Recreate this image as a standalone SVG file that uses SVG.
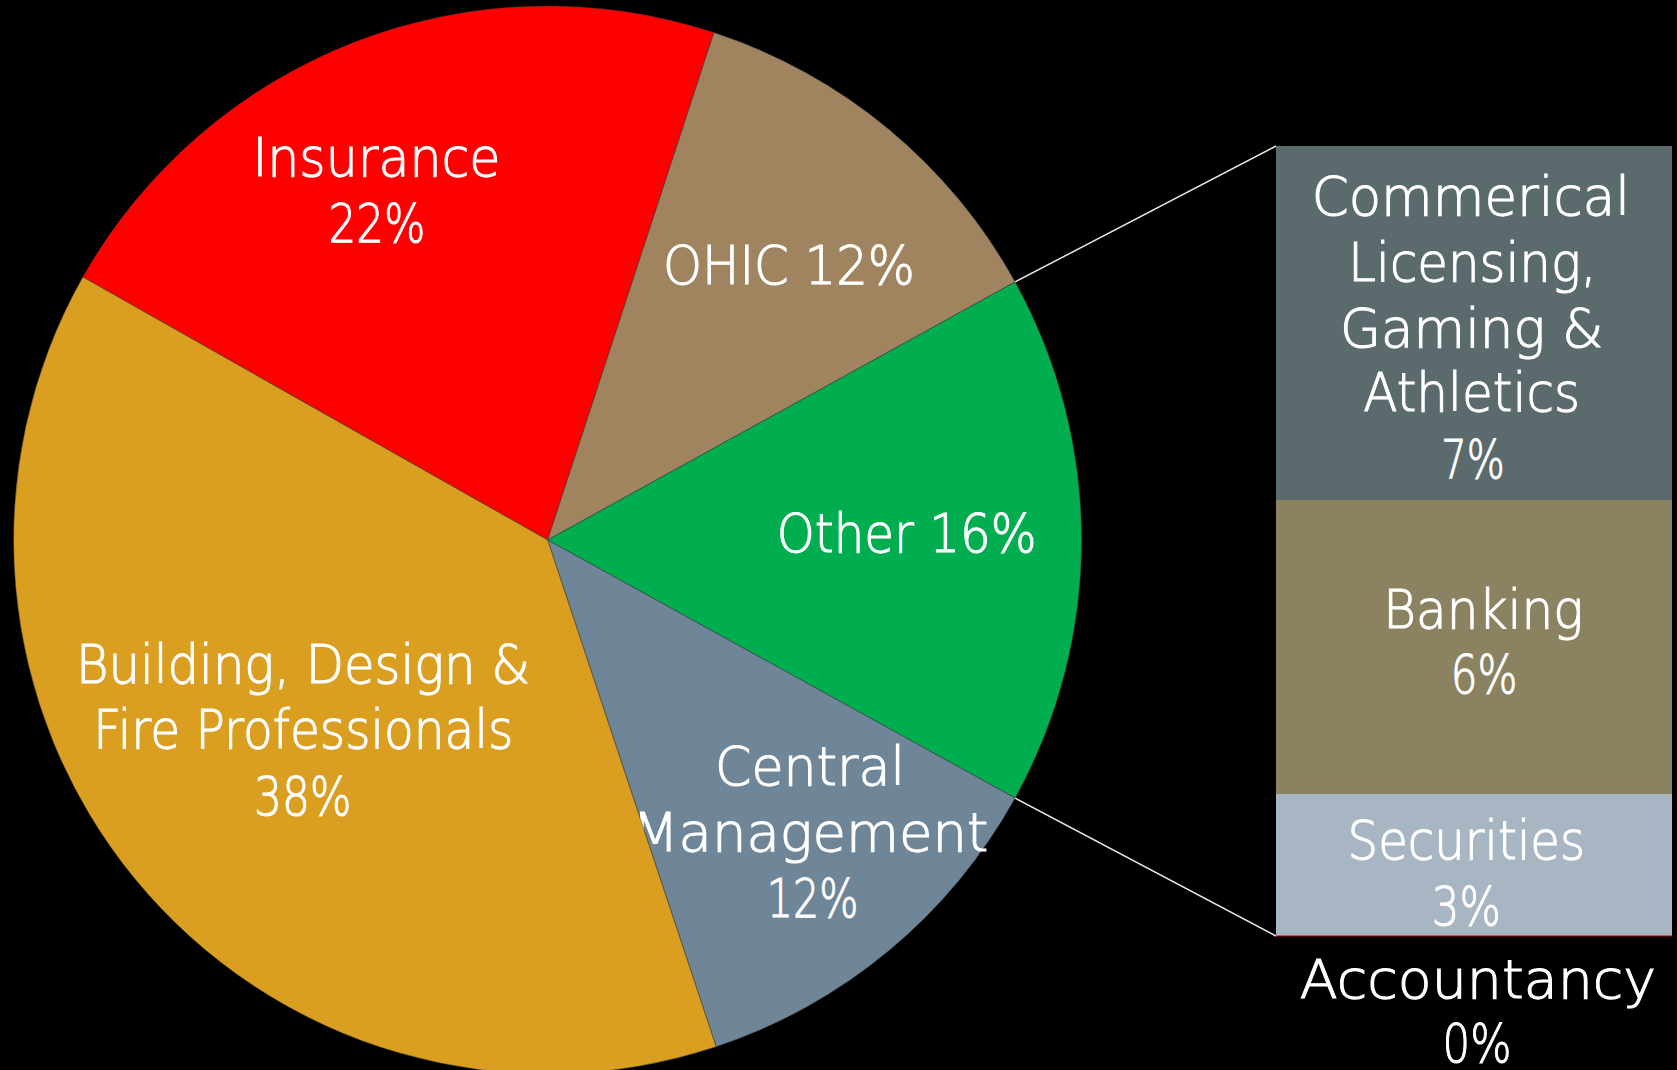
<svg xmlns="http://www.w3.org/2000/svg" width="1677" height="1070" viewBox="0 0 1677 1070">
<style>
.lbl{font-family:"DejaVu Sans","Noto Sans",sans-serif;font-size:54px;font-weight:200;fill:#FFFFFF;stroke:#FFFFFF;stroke-width:1.1;text-anchor:middle}
.slice{stroke:#3a3a3a;stroke-opacity:0.6;stroke-width:0.8}
.conn{stroke:#E6E6E6;stroke-width:1.5;fill:none}
</style>
<rect x="0" y="0" width="1677" height="1070" fill="#000000"/>
<g id="insurance">
<path class="slice" fill="#FF0000" d="M547.6,540 L82.83,277.05 A534,534 0 0 1 713.95,32.57 Z"/>
<text class="lbl" x="376.4" y="176" textLength="248" lengthAdjust="spacingAndGlyphs">Insurance</text>
<text class="lbl" x="377" y="241.7" textLength="97" lengthAdjust="spacingAndGlyphs">22%</text>
</g>
<g id="ohic">
<path class="slice" fill="#A08460" d="M547.6,540 L713.95,32.57 A534,534 0 0 1 1015.1,281.93 Z"/>
<text class="lbl" x="789" y="284.3" textLength="252" lengthAdjust="spacingAndGlyphs">OHIC 12%</text>
</g>
<g id="other">
<path class="slice" fill="#00AE50" d="M547.6,540 L1015.1,281.93 A534,534 0 0 1 1015.1,798.07 Z"/>
<text class="lbl" x="906.7" y="551.7" textLength="260" lengthAdjust="spacingAndGlyphs">Other 16%</text>
</g>
<g id="central-management">
<path class="slice" fill="#6F8598" d="M547.6,540 L1015.1,798.07 A534,534 0 0 1 716.16,1046.7 Z"/>
<text class="lbl" x="810" y="785" textLength="190" lengthAdjust="spacingAndGlyphs">Central</text>
<text class="lbl" x="810" y="850.7" textLength="356.7" lengthAdjust="spacingAndGlyphs">Management</text>
<text class="lbl" x="812.5" y="916.7" textLength="91.7" lengthAdjust="spacingAndGlyphs">12%</text>
</g>
<g id="building-design-fire">
<path class="slice" fill="#DA9E20" d="M547.6,540 L716.16,1046.7 A534,534 0 0 1 82.83,277.05 Z"/>
<text class="lbl" x="303" y="683.3" textLength="454" lengthAdjust="spacingAndGlyphs">Building, Design &amp;</text>
<text class="lbl" x="303.3" y="748.3" textLength="420" lengthAdjust="spacingAndGlyphs">Fire Professionals</text>
<text class="lbl" x="302.8" y="815" textLength="97.7" lengthAdjust="spacingAndGlyphs">38%</text>
</g>
<g id="connectors">
<line class="conn" x1="1015.1" y1="281.93" x2="1276" y2="146"/>
<line class="conn" x1="1015.1" y1="798.07" x2="1276" y2="936"/>
</g>
<g id="commercial-licensing">
<rect x="1276" y="146" width="396" height="354" fill="#5B6B6D"/>
<text class="lbl" x="1470.8" y="215" textLength="318.3" lengthAdjust="spacingAndGlyphs">Commerical</text>
<text class="lbl" x="1472.5" y="281" textLength="248.3" lengthAdjust="spacingAndGlyphs">Licensing,</text>
<text class="lbl" x="1471.7" y="346.7" textLength="263.3" lengthAdjust="spacingAndGlyphs">Gaming &amp;</text>
<text class="lbl" x="1471.7" y="410.7" textLength="216.7" lengthAdjust="spacingAndGlyphs">Athletics</text>
<text class="lbl" x="1473" y="478.3" textLength="63.3" lengthAdjust="spacingAndGlyphs">7%</text>
</g>
<g id="banking">
<rect x="1276" y="500" width="396" height="294" fill="#8A8261"/>
<text class="lbl" x="1483.3" y="627.7" textLength="200" lengthAdjust="spacingAndGlyphs">Banking</text>
<text class="lbl" x="1484" y="693.3" textLength="66.7" lengthAdjust="spacingAndGlyphs">6%</text>
</g>
<g id="securities">
<rect x="1276" y="794" width="396" height="142" fill="#A8B5C3"/>
<text class="lbl" x="1466.3" y="859.3" textLength="237.4" lengthAdjust="spacingAndGlyphs">Securities</text>
<text class="lbl" x="1466.3" y="925" textLength="69" lengthAdjust="spacingAndGlyphs">3%</text>
</g>
<g id="accountancy">
<line x1="1276" y1="936" x2="1672" y2="936" stroke="#C00000" stroke-width="1.2"/>
<text class="lbl" x="1478" y="998.3" textLength="356.3" lengthAdjust="spacingAndGlyphs">Accountancy</text>
<text class="lbl" x="1477" y="1062" textLength="69" lengthAdjust="spacingAndGlyphs">0%</text>
</g>
</svg>
